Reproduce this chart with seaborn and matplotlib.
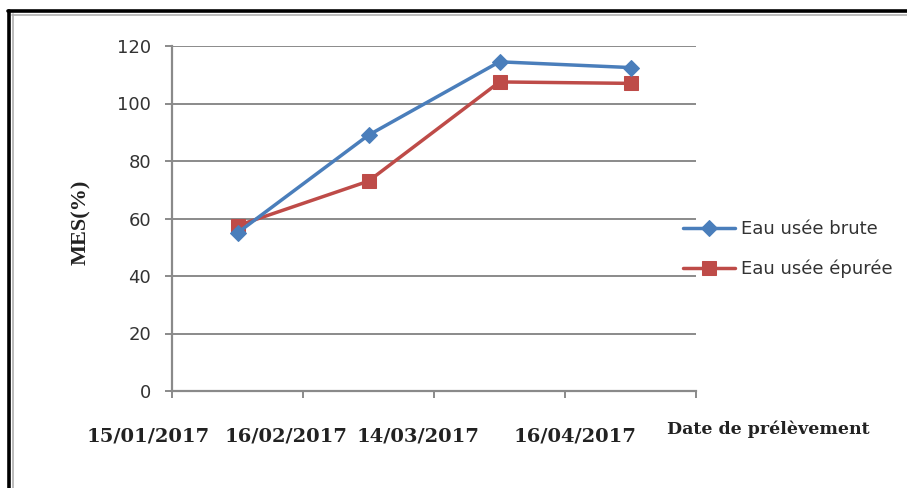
import matplotlib
matplotlib.use("Agg")
import matplotlib.pyplot as plt
from matplotlib.lines import Line2D
import seaborn as sns
import pandas as pd

# Sampling dates and MES measurements
dates = ["15/01/2017", "16/02/2017", "14/03/2017", "16/04/2017"]
eau_brute = [55, 89, 114.5, 112.5]
eau_epuree = [57.5, 73, 107.5, 107]
series_labels = ["Eau usée brute", "Eau usée épurée"]
y_ticks = [0, 20, 40, 60, 80, 100, 120]
y_label = "MES(%)"
x_title = "Date de prélèvement"

df = pd.DataFrame({"pos": range(len(dates)), "date": dates,
                   "brute": eau_brute, "epuree": eau_epuree})

sns.set_theme(style="white")
plt.rcParams["font.family"] = ["DejaVu Sans"]

fig = plt.figure(figsize=(9.07, 4.88), dpi=100)
fig.patch.set_facecolor("white")
ax = fig.add_axes([172 / 907, 1 - 391 / 488, (696 - 172) / 907, (391 - 46) / 488])

grid_c = "#8a8a8a"
blue = "#4A7EBB"
red = "#BE4B48"

sns.lineplot(data=df, x="pos", y="brute", ax=ax, color=blue, lw=2.5,
             marker="D", markersize=8, markeredgecolor=blue,
             label=series_labels[0], zorder=4)
sns.lineplot(data=df, x="pos", y="epuree", ax=ax, color=red, lw=2.5,
             marker="s", markersize=9.5, markeredgecolor=red,
             label=series_labels[1], zorder=3)

ax.set_xlim(-0.5, len(dates) - 0.5)
ax.set_ylim(0, 120)
ax.set_yticks(y_ticks)
ax.set_yticklabels([str(v) for v in y_ticks], fontsize=13, color="#333333")
ax.set_xticks([i - 0.5 for i in range(len(dates) + 1)])
ax.set_xticklabels([])
ax.yaxis.grid(True, color=grid_c, lw=1.4)
ax.set_axisbelow(True)

for side in ("top", "right"):
    ax.spines[side].set_visible(False)
for side in ("left", "bottom"):
    ax.spines[side].set_color(grid_c)
    ax.spines[side].set_linewidth(1.6)
ax.tick_params(axis="y", length=5, width=1.4, color=grid_c, pad=10, left=True)
ax.tick_params(axis="x", length=5, width=1.4, color=grid_c, bottom=True)

ax.set_xlabel("")
ax.set_ylabel(y_label, family="Liberation Serif", fontweight="bold",
              fontsize=16, color="#222222")
ax.yaxis.set_label_coords(-0.155, 0.49)

# Date labels placed beneath the axis
date_x = [-0.68, 0.37, 1.38, 2.58]
for xv, lab in zip(date_x, dates):
    ax.text(xv, -0.133, lab, transform=ax.get_xaxis_transform(),
            ha="center", va="center", family="DejaVu Serif",
            fontweight="bold", fontsize=14, color="#222222", clip_on=False)
ax.text(4.05, -0.11, x_title, transform=ax.get_xaxis_transform(),
        ha="center", va="center", family="DejaVu Serif", fontweight="bold",
        fontsize=12.5, color="#222222", clip_on=False)

leg = ax.legend(loc="upper left", bbox_to_anchor=(683 / 907, 1 - 220 / 488),
                bbox_transform=fig.transFigure, frameon=False, borderpad=0,
                borderaxespad=0, handlelength=2.9, handletextpad=0.3,
                labelspacing=1.2, prop={"size": 13})
for t in leg.get_texts():
    t.set_color("#333333")

# Page frame
W, H = 907, 488
def fx(px):
    return px / W
def fy(py):
    return 1 - py / H
fig.add_artist(Line2D([fx(8), 1], [fy(11), fy(11)], color="black", lw=2.6))
fig.add_artist(Line2D([fx(9), fx(9)], [fy(11), 0], color="black", lw=2.6))
fig.add_artist(Line2D([fx(12), 1], [fy(14.5), fy(14.5)], color="#b0b0b0", lw=1.2))
fig.add_artist(Line2D([fx(12.5), fx(12.5)], [fy(14), 0], color="#b0b0b0", lw=1.2))

fig.savefig("out.png", dpi=100, facecolor="white")
